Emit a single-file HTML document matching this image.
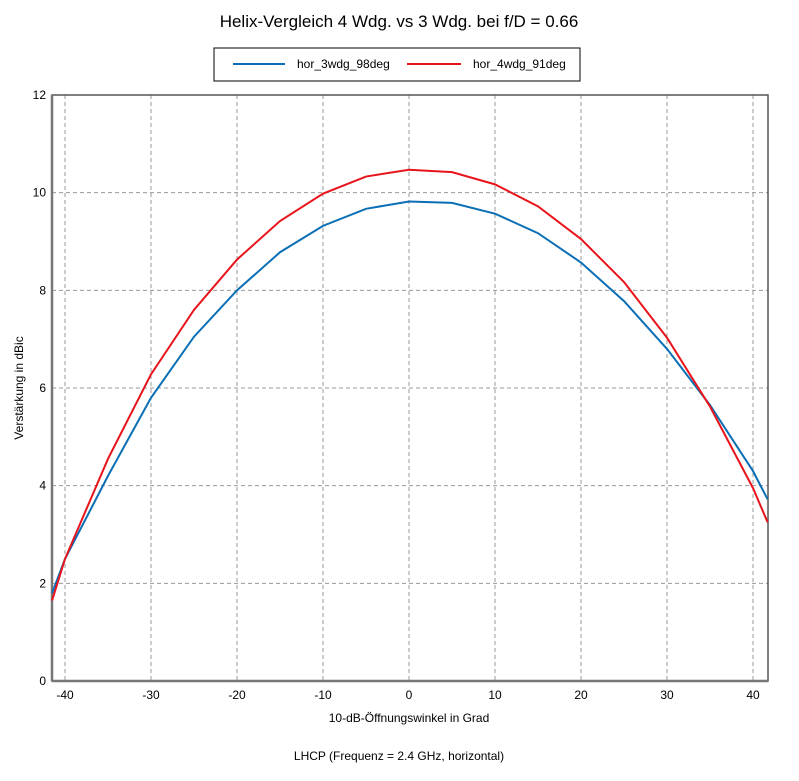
<!DOCTYPE html>
<html><head><meta charset="utf-8"><style>
body{margin:0;background:#fff;font-family:"Liberation Sans",sans-serif}
</style></head><body>
<svg id="c" width="799" height="776" xmlns="http://www.w3.org/2000/svg" font-family="Liberation Sans, sans-serif"></svg>
<script>
const xs = [-41.5,-40,-35,-30,-25,-20,-15,-10,-5,0,5,10,15,20,25,30,35,40,41.7];
const blue = [1.8,2.5,4.2,5.8,7.05,8.0,8.78,9.32,9.67,9.82,9.79,9.57,9.17,8.57,7.78,6.8,5.65,4.3,3.72];
const red = [1.65,2.5,4.55,6.28,7.6,8.63,9.42,9.98,10.33,10.47,10.42,10.17,9.72,9.05,8.17,7.03,5.62,3.95,3.25];
const xTicks = [-40,-30,-20,-10,0,10,20,30,40];
const yTicks = [0,2,4,6,8,10,12];
const L=52,R=768,T=95,B=681,XMIN=-41.5,XMAX=41.7;
const X=v=>409+v*8.6, Y=v=>B-(v/12)*(B-T);
const svg=document.getElementById('c');const ns='http://www.w3.org/2000/svg';
function el(t,a,p){const e=document.createElementNS(ns,t);for(const k in a)e.setAttribute(k,a[k]);(p||svg).appendChild(e);return e;}
function txt(s,a){const e=el('text',a);e.textContent=s;return e;}
const title=txt('Helix-Vergleich 4 Wdg. vs 3 Wdg. bei f/D = 0.66',{x:399,y:27,'text-anchor':'middle','font-size':17});

const lg=el('g',{});
el('rect',{x:214,y:48,width:366,height:33,fill:'#fff',stroke:'#000'},lg);
el('line',{x1:233,x2:285,y1:64,y2:64,stroke:'#0a6fb5','stroke-width':2},lg);
const t1=txt('hor_3wdg_98deg',{x:297,y:68,'font-size':12});lg.appendChild(t1);
el('line',{x1:407,x2:461,y1:64,y2:64,stroke:'#e8141c','stroke-width':2},lg);
const t2=txt('hor_4wdg_91deg',{x:473,y:68,'font-size':12});lg.appendChild(t2);
const grid=el('g',{});
xTicks.forEach(v=>{el('line',{x1:X(v),x2:X(v),y1:T,y2:B,stroke:'#999','stroke-dasharray':'4,3'},grid);
 const t=txt(v,{x:X(v),y:B+18,'text-anchor':'middle','font-size':12});});
yTicks.forEach(v=>{if(v>0&&v<12)el('line',{x1:L,x2:R,y1:Y(v),y2:Y(v),stroke:'#999','stroke-dasharray':'4,3'},grid);
 const t=txt(v,{x:L-6,y:Y(v)+4,'text-anchor':'end','font-size':12});});
const ax=el('rect',{x:L,y:T,width:R-L,height:B-T,fill:'none',stroke:'#555','stroke-width':1.5});

el('line',{x1:L,x2:L,y1:T,y2:B,stroke:'#777','stroke-width':2.5});
el('line',{x1:L,x2:R,y1:B,y2:B,stroke:'#777','stroke-width':2.5});
function line(d,c,n){const p=el('polyline',{points:xs.map((x,i)=>X(x)+','+Y(d[i])).join(' '),fill:'none',stroke:c,'stroke-width':2});
 }
line(blue,'#0a6fb5','series-hor-3wdg');
line(red,'#e8141c','series-hor-4wdg');
const xt=txt('10-dB-Öffnungswinkel in Grad',{x:409,y:722,'text-anchor':'middle','font-size':12});

const yt=txt('Verstärkung in dBic',{x:0,y:0,'text-anchor':'middle','font-size':12,transform:'translate(23,388) rotate(-90)'});

const ft=txt('LHCP (Frequenz = 2.4 GHz, horizontal)',{x:399,y:760,'text-anchor':'middle','font-size':12});

</script>
</body></html>
